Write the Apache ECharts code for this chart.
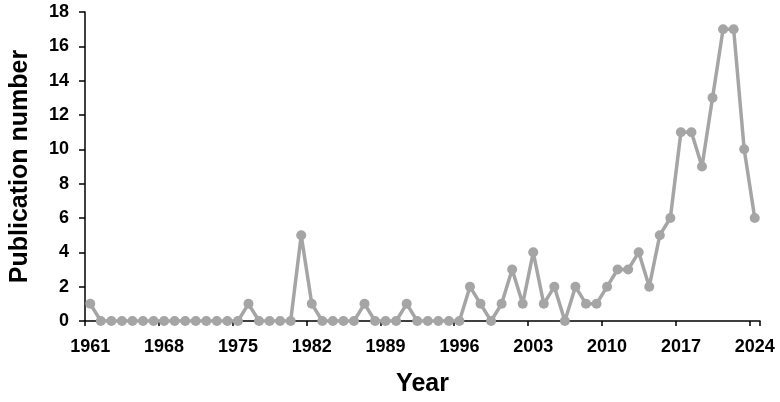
<!DOCTYPE html>
<html>
<head>
<meta charset="utf-8">
<script src="https://cdn.jsdelivr.net/npm/echarts@6/dist/echarts.min.js"></script>
<style>
html,body{margin:0;padding:0;background:#fff;}
#chart{width:780px;height:402px;}
</style>
</head>
<body>
<div id="chart"></div>
<script>
var years = [];
for (var y = 1961; y <= 2024; y++) years.push(String(y));
var publications = [
  1,
  0,0,0,0,0,0,0,0,0,0,0,0,0,0,
  1,
  0,0,0,0,
  5,1,
  0,0,0,0,
  1,
  0,0,0,
  1,
  0,0,0,0,0,
  2,1,0,1,3,1,4,1,2,0,2,1,1,
  2,3,3,4,2,5,6,11,11,9,13,17,17,10,6
];
var yTicks = {min: 0, max: 18, interval: 2};
var xTitle = 'Year';
var yTitle = 'Publication number';

var chart = echarts.init(document.getElementById('chart'));
var font = 'Liberation Sans, Arial, sans-serif';
chart.setOption({
  animation: false,
  backgroundColor: '#ffffff',
  grid: {left: 79, right: 20, top: 12, bottom: 74},
  xAxis: {
    type: 'category',
    data: years,
    boundaryGap: true,
    name: xTitle,
    nameLocation: 'middle',
    nameGap: 51,
    nameTextStyle: {fontFamily: font, fontWeight: 'bold', fontSize: 25, color: '#000'},
    axisLine: {show: true, lineStyle: {color: '#000', width: 1.5}},
    axisTick: {show: true, interval: 6, length: 5, lineStyle: {color: '#000', width: 1.5}},
    axisLabel: {interval: 6, margin: 17, fontFamily: font, fontWeight: 'bold', fontSize: 18, color: '#000'},
    splitLine: {show: false}
  },
  yAxis: {
    type: 'value',
    min: yTicks.min,
    max: yTicks.max,
    interval: yTicks.interval,
    name: yTitle,
    nameLocation: 'middle',
    nameGap: 52,
    nameTextStyle: {fontFamily: font, fontWeight: 'bold', fontSize: 25, color: '#000'},
    axisLine: {show: true, lineStyle: {color: '#000', width: 1.5}},
    axisTick: {show: true, length: 6, lineStyle: {color: '#000', width: 1.5}},
    axisLabel: {margin: 16, fontFamily: font, fontWeight: 'bold', fontSize: 18, color: '#000'},
    splitLine: {show: false}
  },
  series: [{
    type: 'line',
    data: publications,
    symbol: 'circle',
    symbolSize: 10,
    showAllSymbol: true,
    lineStyle: {color: '#a5a5a5', width: 3.5},
    itemStyle: {color: '#a5a5a5'},
    z: 3
  }]
});
</script>
</body>
</html>
